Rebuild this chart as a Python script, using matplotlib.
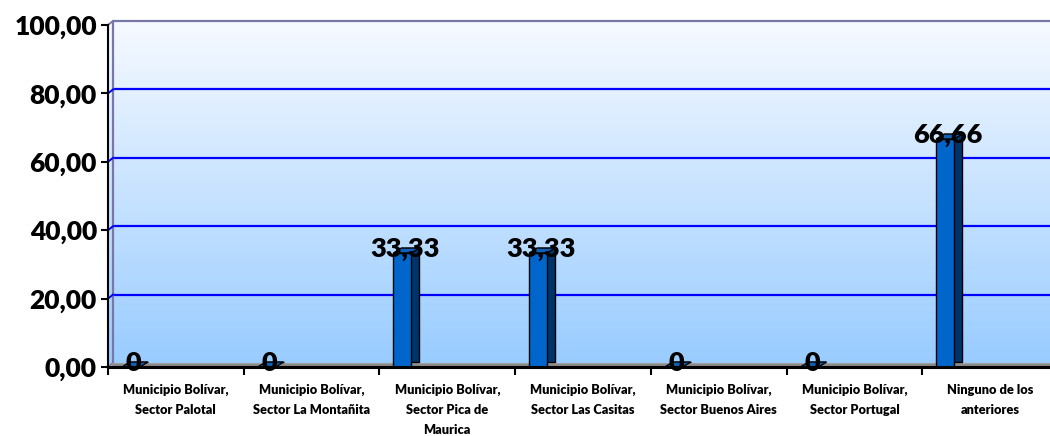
import matplotlib
matplotlib.use("Agg")
import matplotlib.pyplot as plt
import matplotlib.transforms as mtransforms
from matplotlib.colors import LinearSegmentedColormap
from matplotlib.patches import Polygon
from matplotlib.lines import Line2D
import numpy as np

categories = [
    "Municipio Bolívar,\nSector Palotal",
    "Municipio Bolívar,\nSector La Montañita",
    "Municipio Bolívar,\nSector Pica de\nMaurica",
    "Municipio Bolívar,\nSector Las Casitas",
    "Municipio Bolívar,\nSector Buenos Aires",
    "Municipio Bolívar,\nSector Portugal",
    "Ninguno de los\nanteriores",
]
values = [0, 0, 33.33, 33.33, 0, 0, 66.66]
value_labels = ["0", "0", "33,33", "33,33", "0", "0", "66,66"]
yticks = [0, 20, 40, 60, 80, 100]

FONT = ["Lato", "DejaVu Sans"]
plt.rcParams["font.family"] = FONT

W, H, DPI = 1050, 436, 100
fig = plt.figure(figsize=(W / DPI, H / DPI), dpi=DPI)
fig.patch.set_facecolor("white")
ax = fig.add_axes([108 / W, 69 / H, 950 / W, 342 / H])
ax.set_xlim(-0.5, len(categories) - 0.5)
ax.set_ylim(0, 100)
ax.set_facecolor("none")

# 3D wall offset (pixels)
wdx, wdy = 5, 4
wall_off = ax.transData + mtransforms.ScaledTranslation(wdx / DPI, wdy / DPI, fig.dpi_scale_trans)

# gradient background (front and back wall)
cmap = LinearSegmentedColormap.from_list("wall", ["#99CCFF", "#F7FAFF"])
grad = np.linspace(0, 1, 256).reshape(-1, 1)
ext = (-0.5, len(categories) - 0.5, 0, 100)
ax.imshow(grad, extent=ext, origin="lower", aspect="auto", cmap=cmap, zorder=0)
ax.imshow(grad, extent=ext, origin="lower", aspect="auto", cmap=cmap, zorder=0,
          transform=wall_off, clip_on=False)

# gridlines on back wall
for v in yticks[1:-1]:
    ax.plot([-0.5, len(categories) - 0.5], [v, v], color="#0000FF", lw=1.6,
            transform=wall_off, clip_on=False, zorder=1, solid_capstyle="butt")
# back wall border
ax.plot([-0.5, -0.5, len(categories) - 0.5], [0, 100, 100], color="#7777A8", lw=1.6,
        transform=wall_off, clip_on=False, zorder=1)

# diagonal connectors on side wall
for v in yticks:
    p = ax.transData.transform((-0.5, v))
    col = "#7777A8" if v in (0, 100) else "#0000FF"
    ax.add_line(Line2D([p[0], p[0] + wdx], [p[1], p[1] + wdy], color=col, lw=1.4,
                       transform=mtransforms.IdentityTransform(), clip_on=False, zorder=1))

# floor
p0 = ax.transData.transform((-0.5, 0))
p1 = ax.transData.transform((len(categories) - 0.5, 0))
floor = Polygon([[p0[0], p0[1]], [p1[0] + wdx, p1[1]], [p1[0] + wdx, p1[1] + wdy],
                 [p0[0] + wdx, p0[1] + wdy]], closed=True, facecolor="#8A8A8A",
                edgecolor="#A0A0A0", lw=0.8, transform=mtransforms.IdentityTransform(),
                clip_on=False, zorder=1.5)
ax.add_patch(floor)

# bars
x = np.arange(len(categories)) - 0.331
bw = 0.132
bdx, bdy = 8, 5
bar_off = ax.transData + mtransforms.ScaledTranslation(bdx / DPI, bdy / DPI, fig.dpi_scale_trans)
ax.bar(x, values, width=bw, color="#00336A", edgecolor="black", lw=1.0, zorder=2,
       transform=bar_off, clip_on=False)
for xi, v in zip(x, values):
    a = ax.transData.transform((xi - bw / 2, v))
    b = ax.transData.transform((xi + bw / 2, v))
    top = Polygon([[a[0], a[1]], [b[0], b[1]], [b[0] + bdx, b[1] + bdy], [a[0] + bdx, a[1] + bdy]],
                  closed=True, facecolor="#1060B8", edgecolor="black", lw=1.0,
                  transform=mtransforms.IdentityTransform(), clip_on=False, zorder=2.5)
    ax.add_patch(top)
ax.bar(x, values, width=bw, color="#0066CC", edgecolor="black", lw=1.0, zorder=3)

# value labels
for xi, v, lab in zip(x, values, value_labels):
    ax.annotate(lab, (xi, v), xytext=(2, 3), textcoords="offset points",
                ha="center", va="center", fontsize=19.5, fontweight="heavy",
                color="black", zorder=5, annotation_clip=False)

# axes styling
for s in ("top", "right"):
    ax.spines[s].set_visible(False)
ax.spines["left"].set_linewidth(1.5)
ax.spines["bottom"].set_linewidth(2.2)
ax.spines["left"].set_zorder(4)
ax.spines["bottom"].set_zorder(4)

ax.set_yticks(yticks)
ax.set_yticklabels([f"{v:.2f}".replace(".", ",") for v in yticks],
                   fontsize=19, fontweight="heavy")
ax.tick_params(axis="y", direction="out", length=5, width=1.5, pad=3)

ax.set_xticks(np.arange(len(categories)))
ax.set_xticklabels(categories, fontsize=9.2, fontweight="heavy", linespacing=1.8)
ax.set_xticks(np.arange(len(categories)) - 0.5, minor=True)
ax.tick_params(axis="x", which="major", length=0, pad=12)
ax.tick_params(axis="x", which="minor", direction="out", length=6, width=1.5)

fig.savefig("out.png", dpi=DPI, facecolor="white")
